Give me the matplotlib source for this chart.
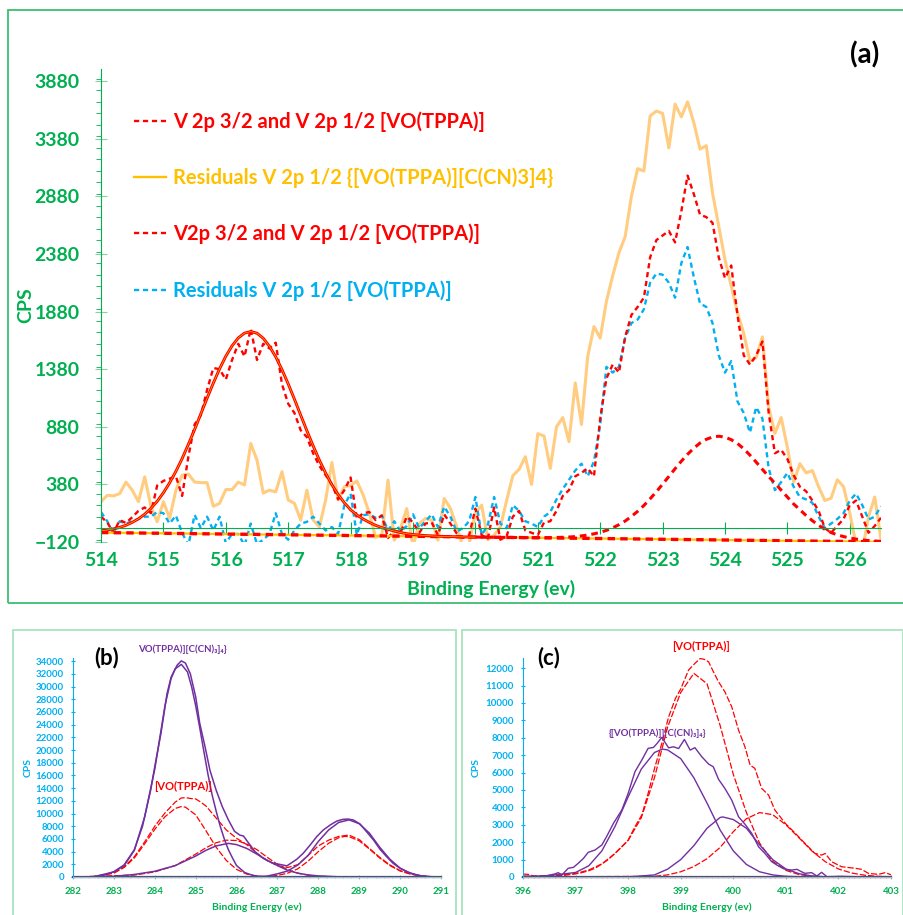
import numpy as np
import matplotlib
matplotlib.use("Agg")
import matplotlib.pyplot as plt
from matplotlib.lines import Line2D
from matplotlib.patches import Rectangle
from matplotlib.ticker import MultipleLocator

plt.rcParams['font.family'] = ['Lato', 'DejaVu Sans']
plt.rcParams['font.weight'] = 'bold'

GREEN = '#00B050'
RED = '#FF0000'
GOLD = '#FFC000'
PEACH = '#FFCC80'
BLUE = '#00B0F0'
PURPLE = '#7030A0'

# ---------------- (a) V 2p region, 0.1 eV steps from 514.0 to 526.5 ----------------
energy_a = np.linspace(514.0, 526.5, 126)

resid_mix = [229, 285, 280, 300, 400, 330, 230, 445, 190, 55,
             230, 85, 330, 460, 470, 400, 395, 395, 190, 215,
             335, 335, 400, 375, 735, 590, 305, 330, 315, 490,
             245, 215, 70, 330, 70, 12, 245, 570, 245, 360,
             370, 410, 290, 130, -80, -60, 417, -104, 0, 170,
             -160, 40, 84, 70, -104, 258, 171, 12, -162, -133,
             128, 200, -100, -60, 10, 240, 455, 510, 620, 380,
             820, 800, 519, 880, 960, 751, 1260, 900, 1490, 1750,
             1650, 1970, 2190, 2390, 2530, 2880, 3120, 3100, 3577, 3620,
             3600, 3300, 3680, 3570, 3700, 3520, 3290, 3320, 2910, 2620,
             2330, 2100, 1870, 1690, 1450, 1480, 1660, 1050, 823, 960,
             700, 400, 560, 480, 500, 360, 240, 260, 420, 360,
             130, -140, -200, 100, 270, -100]

resid_vo = [140, 60, -40, 60, 40, 60, 80, 100, 100, 140,
            130, 40, 110, -40, -150, 115, 0, 100, -20, 100,
            -130, -50, -50, -150, 40, -140, -100, -50, 130, -50,
            -100, -20, 40, 55, 100, 40, -20, 10, -50, 200,
            300, -60, 113, 120, 90, 110, -20, 60, -30, 20,
            120, 0, 60, 120, 10, 186, 100, -30, 0, 60,
            270, -60, 30, 270, 40, 0, 200, 150, 60, 40,
            10, 100, 140, 250, 340, 420, 500, 560, 450, 580,
            900, 1400, 1350, 1400, 1650, 1780, 1810, 1900, 2130, 2210,
            2200, 2130, 2000, 2300, 2440, 2180, 1950, 1920, 1780, 1500,
            1350, 1450, 1100, 1000, 830, 1050, 950, 520, 330, 400,
            480, 360, 270, 250, 220, 100, 0, 40, 80, 130,
            240, 300, 200, 75, 100, 190]

v2p_raw = [100, 50, -40, 70, 45, 95, 150, 180, 130, 370,
           410, 430, 450, 280, 620, 900, 980, 1200, 1390, 1380,
           1290, 1460, 1600, 1490, 1730, 1460, 1600, 1560, 1610, 1250,
           1080, 1000, 850, 790, 650, 540, 460, 380, 250, 330,
           440, 80, 130, 140, 70, 110, -85, -20, -40, 100,
           50, -40, 40, 50, -60, 120, 40, -45, -85, -60,
           170, -60, -90, 180, -100, -70, 100, 150, -20, -40,
           -60, 50, 60, 150, 280, 330, 450, 480, 520, 450,
           950, 1300, 1420, 1350, 1660, 1850, 1920, 2000, 2350, 2500,
           2540, 2580, 2480, 2750, 3060, 2900, 2720, 2700, 2650, 2350,
           2170, 2280, 1850, 1500, 1420, 1500, 1620, 1000, 650, 680,
           600, 460, 360, 320, 240, 150, 0, -40, 20, 80,
           200, 240, 100, -40, 20, 90]

# fitted V 2p 3/2 peak, 514.0 .. 520.0
v2p32_fit = [-22, -16, -6, 7, 25, 50, 81, 121, 172, 233,
             307, 394, 493, 604, 727, 856, 992, 1128, 1259, 1383,
             1492, 1582, 1651, 1693, 1706, 1692, 1648, 1578, 1487, 1376,
             1252, 1119, 981, 845, 714, 590, 478, 377, 292, 220,
             160, 115, 80, 50, 25, 5, -10, -25, -38, -48,
             -55, -60, -64, -67, -70, -72, -73, -75, -76, -77,
             -77]
# fitted V 2p 1/2 peak, 520.0 .. 526.5
v2p12_fit = [-77, -78, -78, -79, -80, -80, -81, -81, -82, -82,
             -82, -82, -82, -81, -79, -77, -73, -67, -60, -49,
             -36, -19, 3, 30, 62, 102, 146, 197, 255, 316,
             382, 449, 516, 581, 641, 694, 739, 771, 791, 798,
             790, 768, 735, 689, 634, 573, 510, 448, 390, 330,
             270, 210, 160, 110, 65, 25, -10, -38, -58, -73,
             -85, -95, -102, -107, -111, -115]

baseline_x = [514.0, 526.5]
baseline_y = [-38, -119]

legend_a = ['V 2p 3/2 and V 2p 1/2 [VO(TPPA)]',
            'Residuals V 2p 1/2 {[VO(TPPA)][C(CN)3]4}',
            'V2p 3/2 and V 2p 1/2 [VO(TPPA)]',
            'Residuals V 2p 1/2 [VO(TPPA)]']

# ---------------- (b) C 1s ----------------
b_env_x = [282.0, 282.5, 282.75, 283.0, 283.25, 283.5, 283.7, 283.9, 284.0, 284.15,
           284.3, 284.4, 284.55, 284.65, 284.75, 284.87, 285.0, 285.1, 285.23, 285.35,
           285.5, 285.65, 285.8, 285.95, 286.08, 286.17, 286.3, 286.45, 286.65, 286.9,
           287.05, 287.23, 287.3, 287.47, 287.63, 287.8, 287.96, 288.12, 288.29, 288.45,
           288.6, 288.73, 288.86, 289.02, 289.18, 289.35, 289.51, 289.67, 289.83, 290.0,
           290.16, 290.4, 290.65, 291.0]
b_env_y = [0, 50, 260, 840, 1900, 4300, 8000, 13700, 17400, 22600,
           28900, 31500, 33400, 34050, 33700, 32000, 28400, 24200, 20500, 16800,
           13700, 11100, 9000, 7200, 6600, 6450, 5300, 4000, 2950, 2150,
           2000, 1750, 2050, 2780, 3730, 5040, 6350, 7400, 8190, 8810,
           9080, 9130, 8970, 8340, 7130, 5820, 4350, 3200, 2150, 1360,
           840, 310, 50, 0]

b_p1_x = [282.0, 282.5, 283.0, 283.25, 283.5, 283.75, 284.0, 284.25, 284.4, 284.5,
          284.65, 284.8, 284.9, 285.0, 285.1, 285.2, 285.3, 285.4, 285.5, 285.6,
          285.7, 285.8, 285.9, 286.0, 286.2, 286.4, 286.6, 286.8, 287.0, 291.0]
b_p1_y = [0, 30, 800, 1800, 4200, 9400, 17000, 27000, 31300, 32800,
          33500, 32300, 30000, 27000, 23500, 19800, 16200, 13000, 10400, 8000,
          6000, 4300, 3000, 1800, 700, 250, 80, 20, 0, 0]

b_p2_x = [282.0, 283.0, 283.5, 284.0, 284.5, 285.0, 285.25, 285.5, 285.8, 286.0,
          286.25, 286.5, 286.75, 287.0, 287.25, 287.5, 287.75, 288.0, 288.5, 289.0, 291.0]
b_p2_y = [0, 100, 400, 900, 1800, 3300, 4200, 4900, 5300, 5100,
          4500, 3600, 2600, 1800, 1050, 600, 330, 170, 30, 0, 0]

b_p3_x = [282.0, 286.5, 286.75, 287.0, 287.25, 287.5, 287.75, 288.0, 288.25, 288.5,
          288.75, 289.0, 289.25, 289.5, 289.75, 290.0, 290.25, 290.5, 290.75, 291.0]
b_p3_y = [0, 0, 150, 500, 950, 1900, 3400, 5600, 7400, 8600,
          9000, 8400, 6900, 4700, 2800, 1400, 600, 200, 50, 0]

b_red_env_x = [282.0, 282.5, 283.0, 283.25, 283.5, 283.75, 284.0, 284.25, 284.5, 284.65,
               284.75, 284.9, 285.0, 285.1, 285.25, 285.5, 285.75, 286.0, 286.25, 286.5,
               286.75, 287.0, 287.25, 287.5, 287.75, 288.0, 288.25, 288.5, 288.75, 289.0,
               289.25, 289.5, 289.75, 290.0, 290.25, 290.5, 290.75, 291.0]
b_red_env_y = [0, 50, 700, 1600, 3200, 5500, 8000, 10100, 11800, 12450,
               12500, 12350, 12300, 11900, 11200, 9300, 7400, 6100, 5100, 3700,
               2600, 1800, 1500, 1950, 3400, 4900, 5800, 6400, 6600, 5900,
               4500, 3100, 1900, 1000, 500, 200, 50, 0]

b_red1_x = [282.0, 282.5, 283.0, 283.25, 283.5, 283.75, 284.0, 284.25, 284.5, 284.65,
            284.75, 285.0, 285.25, 285.5, 285.75, 286.0, 286.25, 286.5, 286.75, 287.0, 291.0]
b_red1_y = [0, 30, 600, 1500, 3000, 5200, 7500, 9500, 10800, 11100,
            11000, 9800, 7300, 4700, 2600, 1200, 450, 150, 40, 0, 0]

b_red2_x = [282.0, 283.5, 284.0, 284.5, 285.0, 285.25, 285.5, 285.75, 286.0, 286.25,
            286.5, 286.75, 287.0, 287.25, 287.5, 287.75, 288.0, 288.5, 289.0, 291.0]
b_red2_y = [0, 300, 800, 1800, 3600, 4600, 5400, 5800, 5750, 5200,
            4300, 3100, 2000, 1150, 600, 280, 120, 20, 0, 0]

b_red3_x = [282.0, 286.5, 286.75, 287.0, 287.25, 287.5, 287.75, 288.0, 288.25, 288.5,
            288.65, 288.75, 289.0, 289.25, 289.5, 289.75, 290.0, 290.25, 290.5, 290.75, 291.0]
b_red3_y = [0, 20, 80, 250, 600, 1300, 2500, 4000, 5300, 6200,
            6400, 6350, 5700, 4400, 3000, 1800, 950, 450, 180, 50, 0]

# ---------------- (c) N 1s ----------------
c_env_x = [396.0, 396.36, 396.6, 396.67, 396.74, 396.86, 396.96, 397.05, 397.15, 397.24,
           397.37, 397.5, 397.59, 397.72, 397.88, 398.0, 398.13, 398.26, 398.38, 398.48,
           398.55, 398.64, 398.77, 398.86, 398.96, 399.07, 399.18, 399.27, 399.4, 399.53,
           399.62, 399.72, 399.84, 399.97, 400.1, 400.22, 400.35, 400.48, 400.6, 400.73,
           400.86, 400.99, 401.11, 401.21, 401.36, 401.49, 401.59, 401.68, 401.78, 402.06,
           402.32, 403.0]
c_env_y = [57, 20, 170, 250, 115, 500, 555, 785, 1070, 1416,
           1550, 1840, 2320, 3080, 3850, 4800, 6050, 6720, 7390, 7440,
           7670, 8020, 7420, 7480, 7380, 7900, 7290, 7430, 6910, 6490,
           6330, 5610, 5090, 4420, 3460, 3040, 2510, 1740, 1360, 880,
           630, 440, 400, 440, 210, 250, 57, 270, 20, 40,
           20, 20]

c_p1_x = [396.0, 396.5, 397.0, 397.25, 397.5, 397.75, 398.0, 398.25, 398.5, 398.65,
          398.75, 399.0, 399.25, 399.5, 399.75, 400.0, 400.25, 400.5, 400.75, 401.0,
          401.5, 403.0]
c_p1_y = [10, 80, 260, 640, 1500, 2900, 4600, 6200, 7150, 7350,
          7300, 6800, 5700, 4250, 2700, 1500, 720, 300, 120, 40,
          0, 0]

c_p2_x = [396.0, 398.0, 398.5, 398.75, 399.0, 399.25, 399.5, 399.75, 399.8, 400.0,
          400.25, 400.5, 400.75, 401.0, 401.25, 401.5, 401.75, 402.0, 403.0]
c_p2_y = [0, 0, 120, 450, 1000, 1800, 2800, 3420, 3450, 3300,
          2800, 1850, 1000, 460, 190, 60, 10, 0, 0]

c_red_env_x = [396.0, 396.1, 396.2, 396.5, 396.75, 397.0, 397.12, 397.25, 397.37, 397.5,
               397.62, 397.75, 397.88, 398.0, 398.13, 398.26, 398.38, 398.51, 398.64, 398.77,
               398.9, 399.0, 399.15, 399.28, 399.37, 399.45, 399.53, 399.62, 399.72, 399.84,
               399.97, 400.1, 400.22, 400.32, 400.41, 400.54, 400.67, 400.79, 400.99, 401.18,
               401.36, 401.55, 401.68, 401.75, 401.87, 402.06, 402.32, 402.44, 402.57, 402.76,
               402.89, 403.0]
c_red_env_y = [170, 150, 60, 50, 80, 180, 250, 360, 500, 750,
               1000, 1360, 1740, 2120, 2890, 3560, 4800, 6330, 7670, 9200,
               10260, 10800, 11890, 12300, 12550, 12500, 12360, 11800, 11210, 10640,
               9780, 8440, 7490, 6430, 6240, 5090, 4710, 3850, 3080, 2510,
               1940, 1360, 1260, 1350, 880, 590, 500, 440, 210, 150,
               250, 130]

c_red1_x = [396.0, 396.5, 397.0, 397.25, 397.5, 397.75, 398.0, 398.25, 398.5, 398.75,
            399.0, 399.25, 399.5, 399.75, 400.0, 400.25, 400.5, 400.75, 401.0, 401.25,
            401.5, 402.0, 403.0]
c_red1_y = [20, 60, 200, 400, 750, 1350, 2100, 3400, 5700, 8600,
            10600, 11700, 11100, 8700, 5900, 3700, 1950, 900, 380, 140,
            40, 0, 0]

c_red2_x = [396.0, 398.5, 398.75, 399.0, 399.25, 399.5, 399.75, 400.0, 400.25, 400.5,
            400.75, 401.0, 401.25, 401.5, 401.75, 402.0, 402.25, 402.5, 402.75, 403.0]
c_red2_y = [0, 40, 120, 300, 600, 1050, 1700, 2600, 3350, 3700,
            3580, 3000, 2250, 1480, 880, 460, 230, 100, 40, 10]


W, H = 904, 915
fig = plt.figure(figsize=(W / 100, H / 100), dpi=100)

# panel frames
fig.add_artist(Rectangle((8 / W, 1 - 603 / H), 900 / W, 593 / H, transform=fig.transFigure,
                         fill=False, ec='#3DBE72', lw=1.3))
fig.add_artist(Rectangle((13 / W, -0.01), 443 / W, 1 - 630 / H + 0.01, transform=fig.transFigure,
                         fill=False, ec='#A8E4C0', lw=1.3))
fig.add_artist(Rectangle((462 / W, -0.01), 441 / W, 1 - 630 / H + 0.01, transform=fig.transFigure,
                         fill=False, ec='#A8E4C0', lw=1.3))

# ---- (a) ----
ax = fig.add_axes([101 / W, 1 - 542 / H, 780 / W, 473 / H])
dash = (0, (2.2, 1.6))
ax.plot(energy_a, resid_mix, color=PEACH, lw=2.2, solid_joinstyle='round')
ax.plot(energy_a, resid_vo, color=BLUE, lw=1.7, ls=dash)
ax.plot(energy_a, v2p_raw, color=RED, lw=1.7, ls=dash)
ax.plot(baseline_x, baseline_y, color=GOLD, lw=1.6)
ax.plot(baseline_x, baseline_y, color=RED, lw=2.4, ls=dash)
ax.plot(energy_a[:61], v2p32_fit, color=RED, lw=2.1, solid_joinstyle='round')
ax.plot(energy_a[:61], v2p32_fit, color=GOLD, lw=0.45)
ax.plot(energy_a[60:], v2p12_fit, color=RED, lw=2.2, ls=dash)

ax.set_xlim(514, 526.5)
ax.set_ylim(-120, 3985)
ax.set_yticks(np.arange(-120, 3881, 500))
ax.yaxis.set_minor_locator(MultipleLocator(100))
ax.set_xticks(np.arange(514, 527, 1))

for s in ['top', 'right']:
    ax.spines[s].set_visible(False)
ax.spines['left'].set_color(GREEN)
ax.spines['bottom'].set_position(('data', 0))
ax.spines['bottom'].set_color(GREEN)
ax.tick_params(axis='x', direction='inout', length=9, color=GREEN, labelbottom=False)
ax.tick_params(axis='y', which='major', direction='inout', length=9, color='#7FD4A2',
               labelsize=14, labelcolor=GREEN, pad=11)
ax.tick_params(axis='y', which='minor', direction='out', length=3.5, color=GREEN)

sec = ax.secondary_xaxis('bottom')
sec.set_xticks(np.arange(514, 527, 1))
sec.spines['bottom'].set_visible(False)
sec.tick_params(length=0, pad=7, labelsize=14, labelcolor=GREEN)

ax.set_ylabel('CPS', color=GREEN, fontsize=14, fontweight='bold')
ax.yaxis.set_label_coords(-0.085, 0.5)
ax.set_xlabel('Binding Energy (ev)', color=GREEN, fontsize=14, fontweight='bold')
ax.xaxis.set_label_coords(0.5, -0.08)

handles = [Line2D([], [], color=RED, lw=1.7, ls=dash),
           Line2D([], [], color=GOLD, lw=1.7),
           Line2D([], [], color=RED, lw=1.7, ls=dash),
           Line2D([], [], color=BLUE, lw=1.7, ls=dash)]
ax.legend(handles, legend_a, loc='upper left', bbox_to_anchor=(134 / W, 1 - 111 / H),
          bbox_transform=fig.transFigure, frameon=False, borderpad=0, borderaxespad=0,
          handlelength=1.6, handletextpad=0.35, labelspacing=1.78,
          prop={'weight': 'bold', 'size': 14.5}, labelcolor=[RED, GOLD, RED, BLUE])

fig.text(865 / W, 1 - 55 / H, '(a)', fontsize=20, fontweight='bold', ha='center', va='center')


def small_panel(rect, xlim, ylim, ystep, xminor):
    a = fig.add_axes(rect)
    a.set_xlim(*xlim)
    a.set_ylim(*ylim)
    a.set_yticks(np.arange(0, ylim[1], ystep))
    a.set_xticks(np.arange(xlim[0], xlim[1] + 1, 1))
    a.xaxis.set_minor_locator(MultipleLocator(xminor))
    for s in ['top', 'right']:
        a.spines[s].set_visible(False)
    a.spines['left'].set_color(BLUE)
    a.spines['bottom'].set_color('#7FD4A2')
    a.tick_params(axis='y', direction='inout', length=3, color=BLUE, labelsize=7,
                  labelcolor=BLUE, pad=5)
    a.tick_params(axis='x', direction='inout', length=3, color='#7FD4A2', labelsize=7,
                  labelcolor=GREEN, pad=6)
    a.tick_params(axis='x', which='minor', direction='inout', length=2, color='#7FD4A2')
    a.set_ylabel('CPS', color=BLUE, fontsize=7.5, fontweight='bold')
    a.set_xlabel('Binding Energy (ev)', color=GREEN, fontsize=7.5, fontweight='bold')
    a.xaxis.set_label_coords(0.5, -0.115)
    return a


long_dash = (0, (5, 1.6))

# ---- (b) ----
axb = small_panel([73 / W, 1 - 877 / H, 368 / W, 219 / H], (282, 291), (0, 34500), 2000, 0.2)
axb.yaxis.set_label_coords(-0.109, 0.5)
axb.plot(b_red_env_x, b_red_env_y, color=RED, lw=0.9, ls=long_dash)
axb.plot(b_red1_x, b_red1_y, color=RED, lw=0.9, ls=long_dash)
axb.plot(b_red2_x, b_red2_y, color=RED, lw=0.9, ls=long_dash)
axb.plot(b_red3_x, b_red3_y, color=RED, lw=0.9, ls=long_dash)
axb.plot(b_env_x, b_env_y, color=PURPLE, lw=1.1)
axb.plot(b_p1_x, b_p1_y, color=PURPLE, lw=1.1)
axb.plot(b_p2_x, b_p2_y, color=PURPLE, lw=1.1)
axb.plot(b_p3_x, b_p3_y, color=PURPLE, lw=1.1)
axb.plot([282, 291], [0, 0], color=PURPLE, lw=1.6, clip_on=False)
axb.text(284.67, 35900, 'VO(TPPA)][C(CN)₃]₄}', color=PURPLE, fontsize=7,
         fontweight='bold', ha='center', va='center', clip_on=False)
axb.text(284.69, 14200, '[VO(TPPA)]', color=RED, fontsize=8, fontweight='bold',
         ha='center', va='center')
fig.text(107 / W, 1 - 658 / H, '(b)', fontsize=16, fontweight='bold', ha='center', va='center')

# ---- (c) ----
axc = small_panel([523 / W, 1 - 877 / H, 368 / W, 219 / H], (396, 403), (0, 12580), 1000, 0.1)
axc.yaxis.set_label_coords(-0.114, 0.5)
axc.plot(c_red_env_x, c_red_env_y, color=RED, lw=0.9, ls=long_dash)
axc.plot(c_red1_x, c_red1_y, color=RED, lw=0.9, ls=long_dash)
axc.plot(c_red2_x, c_red2_y, color=RED, lw=0.9, ls=long_dash)
axc.plot(c_env_x, c_env_y, color=PURPLE, lw=1.0)
axc.plot(c_p1_x, c_p1_y, color=PURPLE, lw=1.0)
axc.plot(c_p2_x, c_p2_y, color=PURPLE, lw=1.0)
axc.plot([396, 403], [0, 0], color=PURPLE, lw=1.6, clip_on=False)
axc.plot([396, 403], [0, 0], color=RED, lw=0.8, clip_on=False)
axc.text(399.39, 13260, '[VO(TPPA)]', color=RED, fontsize=8, fontweight='bold',
         ha='center', va='center', clip_on=False)
axc.text(398.55, 8270, '{[VO(TPPA)]][C(CN)₃]₄}', color=PURPLE, fontsize=7,
         fontweight='bold', ha='center', va='center')
fig.text(549 / W, 1 - 658 / H, '(c)', fontsize=16, fontweight='bold', ha='center', va='center')

fig.savefig('out.png', dpi=100)
